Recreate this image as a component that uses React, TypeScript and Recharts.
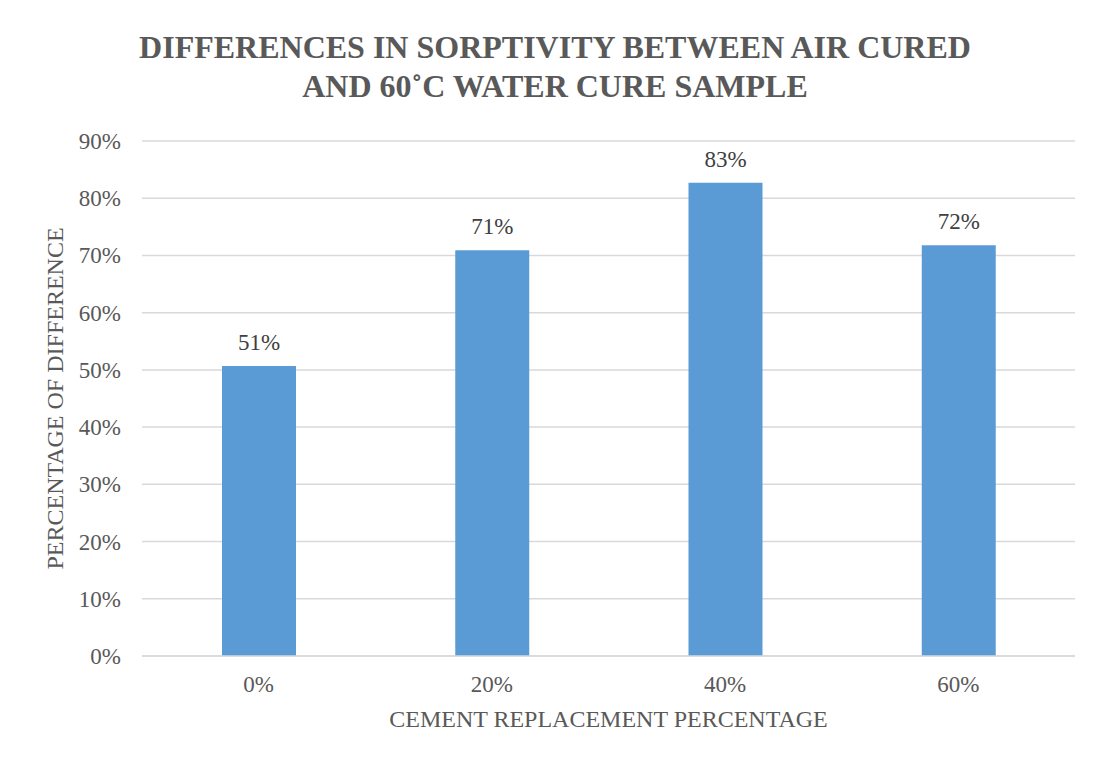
import { BarChart, Bar, XAxis, YAxis, CartesianGrid, LabelList, Label } from "recharts";

const categories = ["0%", "20%", "40%", "60%"];
const differences = [0.507, 0.709, 0.827, 0.718];
const yTicks = [0, 0.1, 0.2, 0.3, 0.4, 0.5, 0.6, 0.7, 0.8, 0.9];

const titleLines = [
  "DIFFERENCES IN SORPTIVITY BETWEEN AIR CURED",
  "AND 60˚C WATER CURE SAMPLE",
];
const xTitle = "CEMENT REPLACEMENT PERCENTAGE";
const yTitle = "PERCENTAGE OF DIFFERENCE";

const data = categories.map((c, i) => ({ cat: c, value: differences[i] }));

const FONT = "Liberation Serif";
const pct = (v: number) => `${Math.round(v * 100)}%`;

// plain svg text so the serif family is actually applied
const XTick = (props: any) => {
  const { x, y, payload } = props;
  return (
    <text x={x} y={y + 16} textAnchor="middle" fill="#595959" fontSize={23} fontFamily={FONT}>
      {payload.value}
    </text>
  );
};

const YTick = (props: any) => {
  const { x, y, payload } = props;
  return (
    <text x={x} y={y + 8} textAnchor="end" fill="#595959" fontSize={23} fontFamily={FONT}>
      {pct(payload.value)}
    </text>
  );
};

const BarValue = (props: any) => {
  const { x, y, width, value } = props;
  return (
    <text x={x + width / 2} y={y - 16} textAnchor="middle" fill="#404040" fontSize={23} fontFamily={FONT}>
      {pct(Number(value))}
    </text>
  );
};

export default function App() {
  return (
    <div style={{ position: "relative", width: 1078, height: 742 }}>
      <div
        style={{
          position: "absolute",
          left: -1,
          top: -1,
          width: 1079,
          height: 743,
          borderTop: "1px solid #d9d9d9",
          borderLeft: "1px solid #d9d9d9",
          boxSizing: "border-box",
          pointerEvents: "none",
        }}
      />
      <svg width={1000} height={110} style={{ position: "absolute", left: 47, top: 0 }}>
        {titleLines.map((t, i) => (
          <text
            key={t}
            x={500}
            y={50 + i * 39}
            textAnchor="middle"
            fill="#595959"
            fontSize={32}
            fontWeight="bold"
            fontFamily={FONT}
          >
            {t}
          </text>
        ))}
      </svg>
      <BarChart
        width={1078}
        height={742}
        data={data}
        margin={{ top: 133, right: 11, left: 0, bottom: 0 }}
        style={{ position: "absolute", left: 0, top: 0 }}
      >
        <CartesianGrid vertical={false} stroke="#d9d9d9" strokeWidth={1.5} />
        <XAxis
          dataKey="cat"
          height={94}
          tickLine={false}
          tickSize={0}
          tickMargin={20}
          axisLine={{ stroke: "#d9d9d9", strokeWidth: 1.5 }}
          tick={<XTick />}
        >
          <Label
            content={(props: any) => {
              const vb = props.viewBox || {};
              return (
                <text
                  x={vb.x + vb.width / 2}
                  y={vb.y + 71}
                  textAnchor="middle"
                  fill="#595959"
                  fontSize={24}
                  fontFamily={FONT}
                >
                  {xTitle}
                </text>
              );
            }}
          />
        </XAxis>
        <YAxis
          width={134}
          domain={[0, 0.9]}
          ticks={yTicks}
          interval={0}
          tickLine={false}
          tickSize={0}
          tickMargin={21}
          axisLine={false}
          tick={<YTick />}
        >
          <Label
            content={(props: any) => {
              const vb = props.viewBox || {};
              const cx = vb.x + 55;
              const cy = vb.y + vb.height / 2;
              return (
                <text
                  x={cx}
                  y={cy}
                  transform={`rotate(-90, ${cx}, ${cy})`}
                  textAnchor="middle"
                  fill="#595959"
                  fontSize={24}
                  fontFamily={FONT}
                >
                  {yTitle}
                </text>
              );
            }}
          />
        </YAxis>
        <Bar dataKey="value" fill="#5b9bd5" barSize={74} isAnimationActive={false}>
          <LabelList dataKey="value" content={<BarValue />} />
        </Bar>
      </BarChart>
    </div>
  );
}
